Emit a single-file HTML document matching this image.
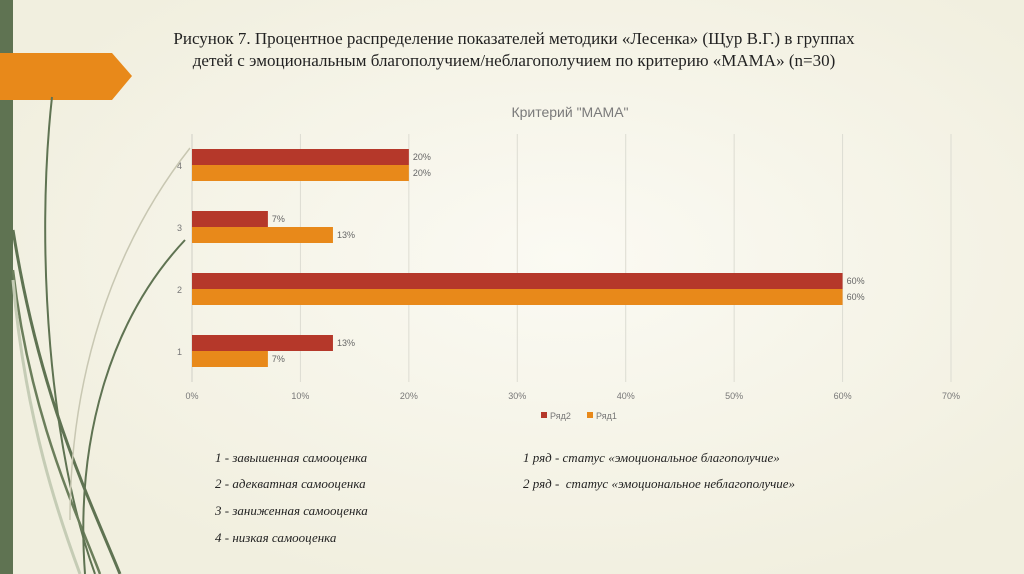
<!DOCTYPE html>
<html><head><meta charset="utf-8"><style>
body{margin:0;width:1024px;height:574px;overflow:hidden;background:#f3f1e2;font-family:"Liberation Sans",sans-serif;position:relative}
.t{position:absolute;font-family:"Liberation Serif",serif}
.n{position:absolute;font-family:"Liberation Serif",serif;font-style:italic;font-size:13px;color:#222}
</style></head><body>
<svg width="1024" height="574" style="position:absolute;left:0;top:0">
<defs><radialGradient id="g" cx="0.55" cy="0.45" r="0.6"><stop offset="0" stop-color="#fbfaf3"/><stop offset="1" stop-color="#f1efdf"/></radialGradient></defs>
<rect width="1024" height="574" fill="url(#g)"/>
<rect x="0" y="0" width="13" height="574" fill="#5f7352"/>
<polygon points="0,53 112,53 132,76 112,100 0,100" fill="#e8891a"/>
<path d="M52,97 C35,250 50,450 95,574" stroke="#5f7352" stroke-width="2" fill="none"/>
<path d="M13,230 C40,400 90,500 120,574" stroke="#5f7352" stroke-width="3" fill="none"/>
<path d="M13,270 C30,420 80,520 100,574" stroke="#6b7e5b" stroke-width="2.5" fill="none"/>
<path d="M185,240 C110,320 75,440 85,574" stroke="#5f7352" stroke-width="2" fill="none"/>
<path d="M190,148 C110,250 70,380 70,520" stroke="#c8c7b2" stroke-width="1.5" fill="none"/>
<path d="M13,280 C25,420 60,520 80,574" stroke="#c5ccb5" stroke-width="3" fill="none"/>
</svg>
<div class="t" style="left:100px;width:828px;top:28px;text-align:center;font-size:17px;line-height:22px;color:#222">Рисунок 7. Процентное распределение показателей методики «Лесенка» (Щур В.Г.) в группах<br>детей с эмоциональным благополучием/неблагополучием по критерию «МАМА» (n=30)</div>
<div style="position:absolute;left:400px;width:340px;top:104px;text-align:center;font-size:14px;color:#7a7a7a">Критерий "МАМА"</div>
<svg id="chart" width="1024" height="574" style="position:absolute;left:0;top:0"></svg>
<div class="n" style="left:215px;top:450px">1 - завышенная самооценка</div>
<div class="n" style="left:215px;top:476px">2 - адекватная самооценка</div>
<div class="n" style="left:215px;top:503px">3 - заниженная самооценка</div>
<div class="n" style="left:215px;top:530px">4 - низкая самооценка</div>
<div class="n" style="left:523px;top:450px">1 ряд - статус «эмоциональное благополучие»</div>
<div class="n" style="left:523px;top:476px">2 ряд -&nbsp; статус «эмоциональное неблагополучие»</div>
<script>
const categories=["1","2","3","4"];
const row2=[13,60,7,20];
const row1=[7,60,13,20];
const ticks=[0,10,20,30,40,50,60,70];
const ns="http://www.w3.org/2000/svg";
const svg=document.getElementById('chart');
const x0=192,x1=951,yTop=134,yBot=382;
const xs=v=>x0+(x1-x0)*v/70;
const band=(yBot-yTop)/categories.length;
const yc=i=>yBot-band*(i+0.5);
function mk(t,a){const e=document.createElementNS(ns,t);for(const k in a)e.setAttribute(k,a[k]);svg.appendChild(e);return e;}
ticks.forEach(t=>{
 const l=mk('line',{x1:xs(t),x2:xs(t),y1:yTop,y2:yBot,stroke:t===0?'#cfcfc6':'#dddcd2','stroke-width':1});
 
 
 const tx=mk('text',{x:xs(t),y:399,'text-anchor':'middle','font-size':9,fill:'#777','font-family':'Liberation Sans'});
 tx.textContent=t+'%';
 
 
});
categories.forEach((c,i)=>{
 const y=yc(i);
 const tx=mk('text',{x:182,y:y+4,'text-anchor':'end','font-size':9,fill:'#777','font-family':'Liberation Sans'});
 tx.textContent=c;
 
 
 [[row2[i],'#b5382a',y-16],[row1[i],'#e8891a',y]].forEach(([v,col,by])=>{
  const r=mk('rect',{x:x0,y:by,width:xs(v)-x0,height:16,fill:col});
  
  
  const lb=mk('text',{x:xs(v)+4,y:by+11,'font-size':9,fill:'#666','font-family':'Liberation Sans'});
  lb.textContent=v+'%';
  
  
 });
});
[['Ряд2','#b5382a',541],['Ряд1','#e8891a',587]].forEach(([n,c,x])=>{
 const r=mk('rect',{x:x,y:412,width:6,height:6,fill:c});
 
 
 const t=mk('text',{x:x+9,y:419,'font-size':9,fill:'#777','font-family':'Liberation Sans'});
 t.textContent=n;
 
 
});
</script>
</body></html>
